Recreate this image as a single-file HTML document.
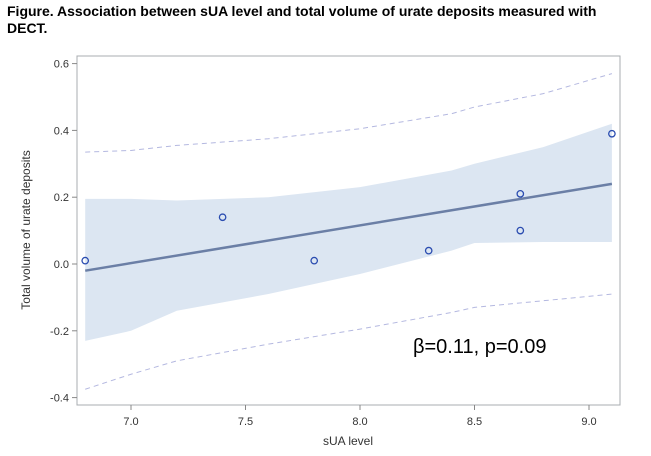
<!DOCTYPE html>
<html><head><meta charset="utf-8"><style>
body{margin:0;background:#fff;width:651px;height:456px;overflow:hidden;font-family:"Liberation Sans",Arial,sans-serif}
#title{position:absolute;left:7px;top:3px;font-size:14px;font-weight:bold;line-height:17px;color:#000}
</style></head><body>
<div id="title">Figure. Association between sUA level and total volume of urate deposits measured with<br>DECT.</div>
<svg id="chart" width="651" height="456" style="position:absolute;left:0;top:0"></svg>
<script>
const xs=[6.8,7.4,7.8,8.3,8.7,8.7,9.1];
const ys=[0.01,0.14,0.01,0.04,0.21,0.10,0.39];
const bandX=[6.8,7.0,7.2,7.6,8.0,8.4,8.5,8.8,9.1];
const ciUpper=[0.195,0.195,0.19,0.20,0.23,0.28,0.30,0.35,0.42];
const ciLower=[-0.23,-0.20,-0.14,-0.09,-0.03,0.04,0.063,0.066,0.066];
const piUpper=[0.335,0.34,0.355,0.375,0.405,0.45,0.47,0.51,0.57];
const piLower=[-0.375,-0.33,-0.29,-0.24,-0.195,-0.145,-0.13,-0.11,-0.09];
const fitX=[6.8,9.1];
const fitY=[-0.02,0.24];
const xTicks=[7.0,7.5,8.0,8.5,9.0];
const yTicks=[-0.4,-0.2,0.0,0.2,0.4,0.6];
const svg=document.getElementById('chart');const NS='http://www.w3.org/2000/svg';
const L=77,R=620,T=56,B=405;
const X=v=>131+(v-7)*229;
const Y=v=>264-v*334;
function mk(t,a,p){const e=document.createElementNS(NS,t);for(const k in a)e.setAttribute(k,a[k]);(p||svg).appendChild(e);return e;}
let d='M'+bandX.map((x,i)=>X(x)+','+Y(ciUpper[i])).join('L');
for(let i=bandX.length-1;i>=0;i--)d+='L'+X(bandX[i])+','+Y(ciLower[i]);
const band=mk('path',{d:d+'Z',fill:'#dce6f2'});


[piUpper,piLower].forEach((arr,j)=>{const p=mk('polyline',{points:bandX.map((x,i)=>X(x)+','+Y(arr[i])).join(' '),fill:'none',stroke:'#b4b8e0','stroke-width':1,'stroke-dasharray':'5,4'});

});
const fl=mk('line',{x1:X(fitX[0]),y1:Y(fitY[0]),x2:X(fitX[1]),y2:Y(fitY[1]),stroke:'#6b7fa6','stroke-width':2.5});


xs.forEach((x,i)=>{const c=mk('circle',{cx:X(x),cy:Y(ys[i]),r:3.2,fill:'none',stroke:'#2a4cb0','stroke-width':1.3});

});
const fr=mk('rect',{x:L,y:T,width:R-L,height:B-T,fill:'none',stroke:'#a8acb0','stroke-width':1});


xTicks.forEach(v=>{mk('line',{x1:X(v),x2:X(v),y1:B,y2:B+5,stroke:'#888'});const t=mk('text',{x:X(v),y:B+20,'text-anchor':'middle','font-size':11,fill:'#333'});t.textContent=v.toFixed(1);

});
yTicks.forEach(v=>{mk('line',{x1:L-5,x2:L,y1:Y(v),y2:Y(v),stroke:'#888'});const t=mk('text',{x:L-8,y:Y(v)+4,'text-anchor':'end','font-size':11,fill:'#333'});t.textContent=v.toFixed(1);

});
const xt=mk('text',{x:348,y:445,'text-anchor':'middle','font-size':12,fill:'#333'});xt.textContent='sUA level';


const yt=mk('text',{x:0,y:0,'text-anchor':'middle','font-size':12,fill:'#333',transform:'translate(30,230) rotate(-90)'});yt.textContent='Total volume of urate deposits';


const an=mk('text',{x:413,y:353,'font-size':20,fill:'#000'});an.textContent='β=0.11, p=0.09';


</script>
</body></html>
